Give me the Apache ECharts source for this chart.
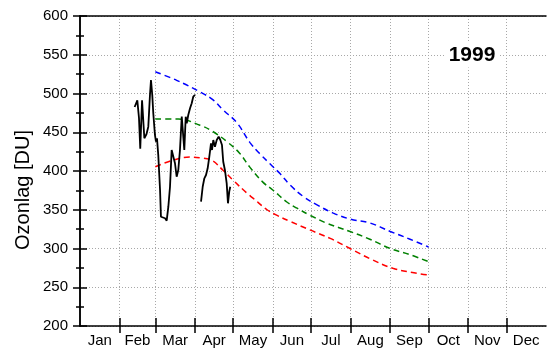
<!DOCTYPE html>
<html><head><meta charset="utf-8">
<script src="https://cdn.jsdelivr.net/npm/echarts@6/dist/echarts.min.js"></script>
<style>html,body{margin:0;padding:0;background:#fff}#c{width:549px;height:353px}</style>
</head><body><div id="c"></div>
<script>
// ---- data ----
const monthNames = ['Jan','Feb','Mar','Apr','May','Jun','Jul','Aug','Sep','Oct','Nov','Dec'];
const monthStarts = [0,31,59,90,120,151,181,212,243,273,304,334,365];
const yTicks = {min: 200, max: 600, step: 50};
const yearLabel = '1999';
const yTitle = 'Ozonlag [DU]';

// measured ozone (day of year, DU), two segments
const obs1Days = [42.8,44.9,46.2,47.2,48.6,49.3,50.4,52.1,53.5,54.8,55.6,56.6,57.4,58.7,59.5,60.3,61.3,62.7,63.4,64.8,66.6,67.9,69.2,70.5,71.8,73.1,74.4,75.7,77.0,78.3,79.7,81.7,82.8,83.6,84.8,86.2,87.5,88.7,90.1];
const obs1Vals = [482.6,491.2,468.4,428.8,491.2,489.9,442.2,447.7,457.2,498.1,517.4,498.1,474.5,446.5,437.8,442.2,420.6,375.5,341.0,341.0,339.0,335.9,353.9,379.7,427.1,429.3,410.0,392.6,401.3,427.1,470.1,427.1,470.1,461.6,472.3,480.9,487.4,495.9,498.1];
const obs2Days = [94.8,96.1,97.4,98.7,100.0,101.3,102.6,103.4,104.4,105.7,107.1,108.6,109.9,111.2,112.2,113.5,114.9,115.9,116.9,117.7];
const obs2Vals = [360.4,379.7,390.6,394.8,403.5,418.5,435.7,427.1,440.0,431.4,440.0,444.3,440.0,433.5,412.0,401.3,384.1,358.3,373.3,379.7];

// reference curves
const blueDays = [59,75.7,94,104,112,123,133,141,149,157,164.5,175,186,198,211.5,227,243,258.5,273];
const blueVals = [528,517,502,492,479,462,437,422,409,396,382,367,356,346,338,333,322,312,302];
const greenDays = [59,77,94,104,115,125,133,143,151,162,170,180,193.5,211.5,227,243,258.5,273];
const greenVals = [467,467,459,451,438,423,405,386,375.5,360,352,343,332.5,322,312,300,292,283];
const redDays = [59,73,86,94,103,112,120,131,135.5,146.5,154,164.5,180,196,211.5,227,245,264,273];
const redVals = [405.5,414,418,417,414,401,388,371,365,350,343,335,324,313,300,287,274.5,268,266];

// ---- build ----
const zip = (a, b) => a.map((d, i) => [d, b[i]]);
const monthMids = monthNames.map((m, i) => (monthStarts[i] + monthStarts[i + 1]) / 2);
const boundaries = monthStarts.slice(1, 12);
const FONT = '"Liberation Sans", Arial, sans-serif';
const gridStyle = {color: '#a8a8a8', width: 1, type: [1, 2]};

const chart = echarts.init(document.getElementById('c'), null, {renderer: 'canvas'});
chart.setOption({
  animation: false,
  backgroundColor: '#fff',
  grid: {left: 80, right: 3, top: 16, bottom: 27, containLabel: false},
  xAxis: [
    {
      type: 'value', position: 'bottom', min: monthStarts[0], max: monthStarts[12],
      axisLine: {show: true, lineStyle: {color: '#000', width: 1.5}},
      axisTick: {show: true, inside: true, length: 8, customValues: boundaries, lineStyle: {color: '#000', width: 1.5}},
      axisLabel: {show: true, margin: 7, customValues: monthMids, fontFamily: FONT, fontSize: 15, color: '#000',
        formatter: v => monthNames[monthMids.indexOf(v)] || ''},
      splitLine: {show: true, lineStyle: gridStyle}
    },
    {
      type: 'value', position: 'bottom', min: monthStarts[0], max: monthStarts[12],
      axisLine: {show: false},
      axisTick: {show: true, inside: false, length: 7, customValues: boundaries, lineStyle: {color: '#000', width: 1.5}},
      axisLabel: {show: false},
      splitLine: {show: false}
    },
    {
      type: 'value', position: 'top', min: monthStarts[0], max: monthStarts[12],
      axisLine: {show: true, lineStyle: {color: '#000', width: 1.5}},
      axisTick: {show: false}, axisLabel: {show: false}, splitLine: {show: false}
    }
  ],
  yAxis: [
    {
      type: 'value', position: 'left', min: yTicks.min, max: yTicks.max, interval: yTicks.step,
      axisLine: {show: true, lineStyle: {color: '#000', width: 1.5}},
      axisTick: {show: true, inside: true, length: 7, lineStyle: {color: '#000', width: 1.5}},
      minorTick: {show: true, splitNumber: 2, length: 4, lineStyle: {color: '#000', width: 1.5}},
      axisLabel: {show: true, margin: 12, fontFamily: FONT, fontSize: 15, color: '#000'},
      splitLine: {show: true, lineStyle: gridStyle}
    },
    {
      type: 'value', position: 'right', min: yTicks.min, max: yTicks.max, interval: yTicks.step,
      axisLine: {show: true, lineStyle: {color: '#000', width: 1.5}},
      axisTick: {show: true, inside: true, length: 7, lineStyle: {color: '#000', width: 1.5}},
      minorTick: {show: true, splitNumber: 2, length: 4, lineStyle: {color: '#000', width: 1.5}},
      axisLabel: {show: false},
      splitLine: {show: false}
    }
  ],
  graphic: [
    {type: 'text', x: 23, y: 190, rotation: Math.PI / 2,
      style: {text: yTitle, fontFamily: FONT, fontSize: 20, fill: '#000', align: 'center', verticalAlign: 'middle'}},
    {type: 'text', x: 472, y: 55, z: 100,
      style: {text: yearLabel, fontFamily: FONT, fontSize: 21, fontWeight: 'bold', fill: '#000',
        align: 'center', verticalAlign: 'middle', backgroundColor: '#fff', padding: [2, 4]}}
  ],
  series: [
    {type: 'line', data: zip(blueDays, blueVals), smooth: 0.4, showSymbol: false, symbol: 'none',
      lineStyle: {color: '#0000ff', width: 1.5, type: [6, 4]}, z: 3},
    {type: 'line', data: zip(greenDays, greenVals), smooth: 0.4, showSymbol: false, symbol: 'none',
      lineStyle: {color: '#008000', width: 1.5, type: [6, 4]}, z: 3},
    {type: 'line', data: zip(redDays, redVals), smooth: 0.4, showSymbol: false, symbol: 'none',
      lineStyle: {color: '#ff0000', width: 1.5, type: [6, 4]}, z: 3},
    {type: 'line', data: zip(obs1Days, obs1Vals), showSymbol: false, symbol: 'none',
      lineStyle: {color: '#000', width: 1.8}, z: 4},
    {type: 'line', data: zip(obs2Days, obs2Vals), showSymbol: false, symbol: 'none',
      lineStyle: {color: '#000', width: 1.8}, z: 4}
  ]
});
</script>
</body></html>
